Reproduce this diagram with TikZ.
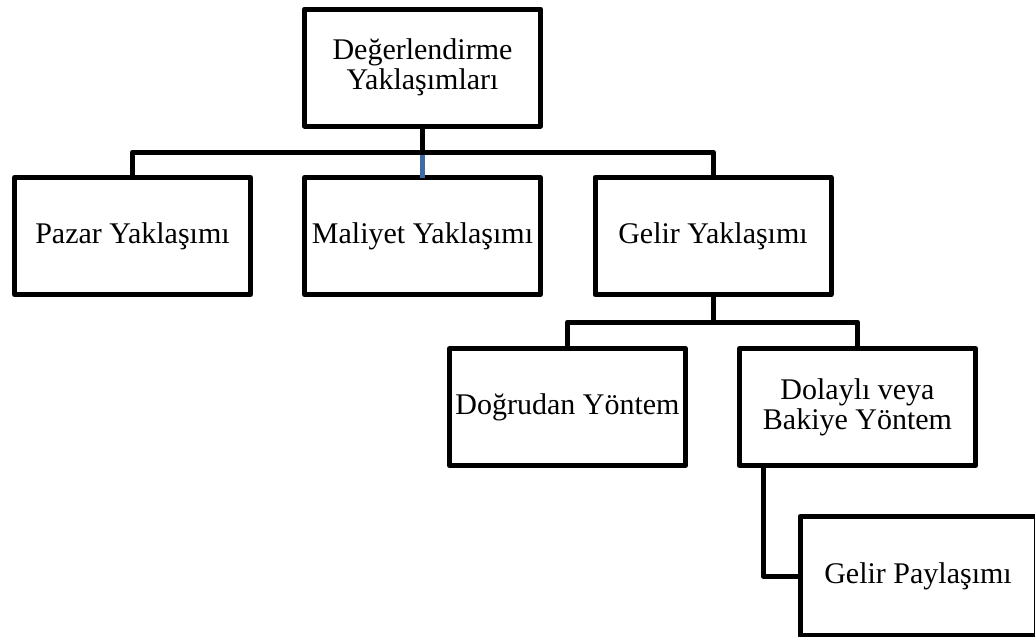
\documentclass[tikz,border=0pt]{standalone}
\usepackage{fontspec}
\setmainfont{Liberation Serif}
\definecolor{linkblue}{RGB}{61,107,163}
\begin{document}
\begin{tikzpicture}[x=0.75pt,y=-0.75pt,
  box/.style={draw=black, line width=3.75pt, line join=round, fill=white,
    minimum width=177pt, minimum height=87.75pt, inner sep=0pt, outer sep=0pt,
    align=center, font=\fontsize{22.5}{22.5}\selectfont},
  conn/.style={draw=black, line width=3.75pt, line join=round}]
\useasboundingbox (0,0) rectangle (1035,636);

% boxes
\node[box] (root)     at (422.5,67.5) {Değerlendirme\\Yaklaşımları};
\node[box] (pazar)    at (132.5,236)  {Pazar Yaklaşımı};
\node[box] (maliyet)  at (422.5,236)  {Maliyet Yaklaşımı};
\node[box] (gelir)    at (713,236)    {Gelir Yaklaşımı};
\node[box] (dogrudan) at (567.5,407)  {Doğrudan Yöntem};
\node[box] (dolayli)  at (857.5,407)  {Dolaylı veya\\Bakiye Yöntem};
\node[box, minimum height=89.25pt] (pay) at (918,576) {Gelir Paylaşımı};

% bus points
\coordinate (busA) at (422.5,152);
\coordinate (busB) at (713,322);
\coordinate (kink) at (763,576);

% first level
\draw[conn, draw=linkblue] (busA) -- (maliyet.north);
\draw[conn] (root.south) -- (busA);
\draw[conn] (pazar.north) |- (busA) -| (gelir.north);

% second level
\draw[conn] (gelir.south) -- (busB);
\draw[conn] (dogrudan.north) |- (busB) -| (dolayli.north);

% third level
\draw[conn] (kink |- dolayli.south) -- (kink) -- (pay.west);
\end{tikzpicture}
\end{document}
